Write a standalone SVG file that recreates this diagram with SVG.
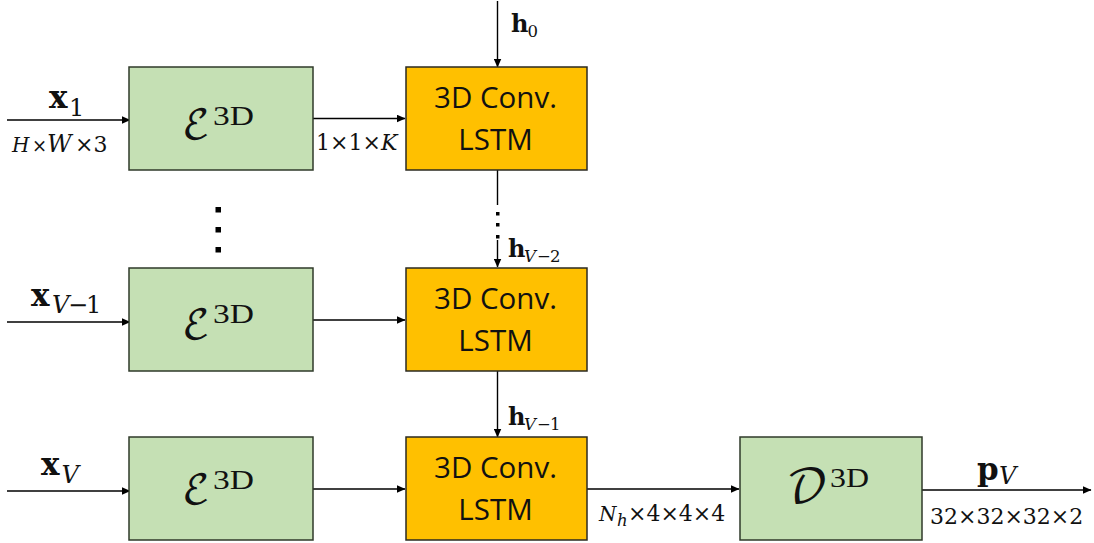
<svg xmlns="http://www.w3.org/2000/svg" width="1094" height="543" viewBox="0 0 1094 543">
<style>
.enc{fill:#c5e0b4;stroke:#2f3a2a;stroke-width:1.5}
.lstm{fill:#ffc000;stroke:#2b2a20;stroke-width:1.5}
.c{fill:none;stroke:#000;stroke-width:1.4}
text{fill:#111;font-family:"DejaVu Serif",serif}
.cal{font-family:"DejaVu Math TeX Gyre","DejaVu Serif",serif;font-size:41px}
.cald{font-family:"DejaVu Math TeX Gyre","DejaVu Serif",serif;font-size:46px}
.sup{font-family:"Liberation Serif",serif;font-size:28px}
.box{font-family:"Open Sans","Liberation Sans",sans-serif;font-size:29.500px;text-anchor:middle}
.b{font-weight:bold;font-size:31px}
.h{font-weight:bold;font-size:24px}
.s{font-size:24px;font-weight:normal}
.i{font-style:italic}
.d{font-size:22px}
.t{font-size:16.500px;font-weight:normal}
</style>
<defs>
<marker id="a" markerWidth="9" markerHeight="8" refX="8.500" refY="4" orient="auto" markerUnits="userSpaceOnUse"><path d="M0 0L9 4L0 8Z" fill="#000"/></marker>
</defs>
<g id="connectors">
<path class="c" marker-end="url(#a)" d="M7 120H130"/>
<path class="c" marker-end="url(#a)" d="M7 322H130"/>
<path class="c" marker-end="url(#a)" d="M7 491H130"/>
<path class="c" marker-end="url(#a)" d="M313 118.500H405"/>
<path class="c" marker-end="url(#a)" d="M313 320H405"/>
<path class="c" marker-end="url(#a)" d="M313 489H405"/>
<path class="c" marker-end="url(#a)" d="M497.500 1V67"/>
<path class="c" d="M497.500 170V205"/>
<path class="c" marker-end="url(#a)" d="M497.500 240V267"/>
<path class="c" marker-end="url(#a)" d="M497.500 371V437"/>
<path class="c" marker-end="url(#a)" d="M587 489H739"/>
<path class="c" marker-end="url(#a)" d="M922 490H1091"/>
</g>
<g id="dots-a" fill="#000"><rect x="215.500" y="207" width="5.500" height="5.500"/><rect x="215.500" y="227" width="5.500" height="5.500"/><rect x="215.500" y="247" width="5.500" height="5.500"/></g>
<g id="dots-b" fill="#000"><rect x="496" y="212" width="3.500" height="3.500"/><rect x="496" y="223" width="3.500" height="3.500"/><rect x="496" y="235" width="3.500" height="3.500"/></g>
<g id="enc1"><rect class="enc" x="129" y="67" width="184" height="103"/><text x="182" y="139" class="cal">ℰ</text><text x="213" y="125" class="sup" textLength="41" lengthAdjust="spacingAndGlyphs">3D</text></g>
<g id="enc2"><rect class="enc" x="129" y="268" width="184" height="103"/><text x="182" y="339" class="cal">ℰ</text><text x="213" y="323" class="sup" textLength="41" lengthAdjust="spacingAndGlyphs">3D</text></g>
<g id="enc3"><rect class="enc" x="129" y="437" width="184" height="103"/><text x="182" y="504" class="cal">ℰ</text><text x="213" y="489" class="sup" textLength="41" lengthAdjust="spacingAndGlyphs">3D</text></g>
<g id="lstm1"><rect class="lstm" x="406" y="67" width="181" height="103"/><text class="box" x="495.500" y="108">3D Conv.</text><text class="box" x="495.500" y="150">LSTM</text></g>
<g id="lstm2"><rect class="lstm" x="406" y="268" width="181" height="103"/><text class="box" x="495.500" y="309">3D Conv.</text><text class="box" x="495.500" y="351">LSTM</text></g>
<g id="lstm3"><rect class="lstm" x="406" y="437" width="181" height="103"/><text class="box" x="495.500" y="478">3D Conv.</text><text class="box" x="495.500" y="520">LSTM</text></g>
<g id="dec"><rect class="enc" x="740" y="437" width="182" height="103"/><text x="786" y="502" class="cald">𝒟</text><text x="830" y="487" class="sup" textLength="39" lengthAdjust="spacingAndGlyphs">3D</text></g>
<g id="labels">
<text class="b" x="49" y="108">x<tspan class="s" x="69" y="116">1</tspan></text>
<text class="d" x="12" y="152"><tspan class="i" style="font-size:20px">H</tspan><tspan style="font-size:18px" x="32">×</tspan><tspan class="i" style="font-size:24px" x="47">W</tspan><tspan x="75">×3</tspan></text>
<text class="b" x="31" y="306">x<tspan class="s i" x="52" y="313">V</tspan><tspan class="s" x="68">−</tspan><tspan class="s" x="86">1</tspan></text>
<text class="b" x="41" y="475">x<tspan class="s i" x="61.500" y="483">V</tspan></text>
<text class="h" x="511" y="32">h<tspan class="t" x="527.500" y="37">0</tspan></text>
<text class="h" x="508" y="257">h<tspan class="t i" x="524" y="262">V</tspan><tspan class="t" x="537">−</tspan><tspan class="t" x="550">2</tspan></text>
<text class="h" x="508" y="425">h<tspan class="t i" x="524" y="430">V</tspan><tspan class="t" x="537">−</tspan><tspan class="t" x="550">1</tspan></text>
<text class="d" x="316" y="150">1×1×<tspan class="i" x="381">K</tspan></text>
<text class="d" x="599" y="521"><tspan class="i" style="font-size:20px">N</tspan><tspan class="t i" x="617" y="526">h</tspan><tspan x="628" y="521">×4×4×4</tspan></text>
<text class="d" x="930" y="524">32×32×32×2</text>
<text class="b" x="977" y="480">p<tspan class="s i" x="999" y="484">V</tspan></text>
</g>
</svg>
